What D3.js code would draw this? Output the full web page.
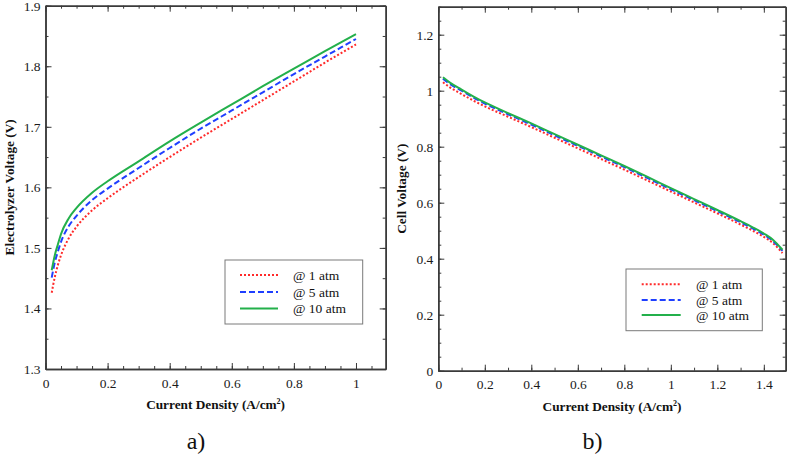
<!DOCTYPE html>
<html><head><meta charset="utf-8">
<script src="https://cdn.jsdelivr.net/npm/d3@7"></script>
<style>
html,body{margin:0;padding:0;background:#fff;}
svg{display:block;}
svg text{font-family:"Liberation Serif","Times New Roman",Times,"DejaVu Serif","Noto Serif",serif !important;}
</style></head>
<body>
<svg id="chart" width="789" height="455"></svg>
<script>
// ---- Data: panel a) electrolyzer ----
const aX = [0.02,0.03,0.04,0.05,0.075,0.1,0.15,0.2,0.3,0.4,0.5,0.6,0.7,0.8,0.9,1.0];
const a1atm  = [1.426,1.452,1.472,1.488,1.516,1.535,1.562,1.582,1.617,1.650,1.682,1.713,1.744,1.775,1.806,1.836];
const a5atm  = [1.451,1.476,1.494,1.510,1.536,1.553,1.579,1.598,1.632,1.665,1.697,1.727,1.757,1.787,1.816,1.845];
const a10atm = [1.463,1.488,1.506,1.523,1.549,1.566,1.591,1.610,1.643,1.676,1.707,1.737,1.767,1.796,1.825,1.853];
// ---- Data: panel b) fuel cell ----
const bX = [0.02,0.05,0.1,0.15,0.2,0.3,0.4,0.5,0.6,0.7,0.8,0.9,1.0,1.1,1.2,1.3,1.35,1.4,1.44,1.48];
const b1atm  = [1.030,1.012,0.988,0.965,0.944,0.907,0.870,0.832,0.794,0.756,0.718,0.679,0.640,0.601,0.562,0.522,0.501,0.478,0.455,0.420];
const b5atm  = [1.043,1.024,1.000,0.976,0.954,0.916,0.879,0.841,0.803,0.765,0.727,0.688,0.648,0.609,0.570,0.530,0.509,0.486,0.463,0.428];
const b10atm = [1.048,1.029,1.004,0.980,0.958,0.920,0.883,0.845,0.807,0.769,0.731,0.692,0.652,0.613,0.574,0.534,0.513,0.490,0.467,0.432];
// ---- Labels ----
const seriesNames = ["@ 1 atm","@ 5 atm","@ 10 atm"];
const aXTicks = [0,0.2,0.4,0.6,0.8,1];
const aYTicks = [1.3,1.4,1.5,1.6,1.7,1.8,1.9];
const bXTicks = [0,0.2,0.4,0.6,0.8,1,1.2,1.4];
const bYTicks = [0,0.2,0.4,0.6,0.8,1,1.2];

const styles = [
  {color:"#ff2a2a", dash:"2,2"},
  {color:"#1f3fff", dash:"6,3"},
  {color:"#23b04b", dash:null}
];

const FONT = '"Liberation Serif","Times New Roman",Times,"DejaVu Serif",serif';
const svg = d3.select("#chart");
const axisColor = "#3a3a3a";

function panel(opt){
  const g = svg.append("g");
  const x = d3.scaleLinear().domain(opt.xDomain).range([opt.x0, opt.x1]);
  const y = d3.scaleLinear().domain(opt.yDomain).range([opt.y1, opt.y0]);
  const minorX = d3.range(opt.xDomain[0], opt.xDomain[1]+1e-9, opt.xMinor);
  const minorY = d3.range(opt.yDomain[0], opt.yDomain[1]+1e-9, opt.yMinor);
  const fmt = d => String(+d.toFixed(2));

  // minor ticks
  g.append("g").attr("transform",`translate(0,${opt.y1})`).call(d3.axisBottom(x).tickValues(minorX).tickSize(-3).tickSizeOuter(0).tickFormat(""));
  g.append("g").attr("transform",`translate(0,${opt.y0})`).call(d3.axisTop(x).tickValues(minorX).tickSize(-3).tickSizeOuter(0).tickFormat(""));
  g.append("g").attr("transform",`translate(${opt.x0},0)`).call(d3.axisLeft(y).tickValues(minorY).tickSize(-3).tickSizeOuter(0).tickFormat(""));
  g.append("g").attr("transform",`translate(${opt.x1},0)`).call(d3.axisRight(y).tickValues(minorY).tickSize(-3).tickSizeOuter(0).tickFormat(""));
  // major ticks
  g.append("g").attr("class","lab").attr("transform",`translate(0,${opt.y1})`).call(d3.axisBottom(x).tickValues(opt.xTicks).tickSize(-6).tickSizeOuter(0).tickPadding(9).tickFormat(fmt));
  g.append("g").attr("transform",`translate(0,${opt.y0})`).call(d3.axisTop(x).tickValues(opt.xTicks).tickSize(-6).tickSizeOuter(0).tickFormat(""));
  g.append("g").attr("class","lab").attr("transform",`translate(${opt.x0},0)`).call(d3.axisLeft(y).tickValues(opt.yTicks).tickSize(-6).tickSizeOuter(0).tickPadding(5).tickFormat(fmt));
  g.append("g").attr("transform",`translate(${opt.x1},0)`).call(d3.axisRight(y).tickValues(opt.yTicks).tickSize(-6).tickSizeOuter(0).tickFormat(""));

  g.selectAll("g").attr("font-family",FONT);
  g.selectAll(".domain").attr("stroke",axisColor).attr("stroke-width",1.5);
  g.selectAll(".tick line").attr("stroke",axisColor).attr("stroke-width",1);
  g.selectAll(".lab text").style("font-family",FONT).attr("font-size",13.5).attr("fill","#1a1a1a");

  // lines
  const line = d3.line().x(d=>x(d[0])).y(d=>y(d[1])).curve(d3.curveMonotoneX);
  opt.series.forEach((s,i)=>{
    g.append("path").datum(opt.xs.map((xv,j)=>[xv,s[j]]))
      .attr("d",line).attr("fill","none")
      .attr("stroke",styles[i].color).attr("stroke-width",2)
      .attr("stroke-dasharray",styles[i].dash);
  });

  // axis titles
  const xt = g.append("text").attr("x",(opt.x0+opt.x1)/2).attr("y",opt.y1+40)
    .style("font-family",FONT)
    .attr("text-anchor","middle").attr("font-weight","bold").attr("font-size",13.3).attr("fill","#111");
  xt.append("tspan").text("Current Density (A/cm");
  xt.append("tspan").attr("font-size",8).attr("dy",-5).text("2");
  xt.append("tspan").attr("dy",5).text(")");

  g.append("text").attr("transform",`translate(${opt.yTitleX},${(opt.y0+opt.y1)/2}) rotate(-90)`)
    .style("font-family",FONT)
    .attr("text-anchor","middle").attr("font-weight","bold").attr("font-size",13.3).attr("fill","#111")
    .text(opt.yTitle);

  // panel letter
  g.append("text").attr("x",opt.letterX).attr("y",449).attr("text-anchor","middle")
    .style("font-family",FONT)
    .attr("font-size",24).attr("fill","#111").text(opt.letter);

  // legend
  const L = opt.legend;
  g.append("rect").attr("x",L.x).attr("y",L.y).attr("width",L.w).attr("height",L.h)
    .attr("fill","#fff").attr("stroke","#7a7a7a").attr("stroke-width",1);
  seriesNames.forEach((n,i)=>{
    const yy = L.rows[i];
    g.append("line").attr("x1",L.lx1).attr("x2",L.lx2).attr("y1",yy).attr("y2",yy)
      .attr("stroke",styles[i].color).attr("stroke-width",2).attr("stroke-dasharray",styles[i].dash);
    g.append("text").attr("x",L.tx).attr("y",yy+4.5).style("font-family",FONT)
      .attr("font-size",13.5).attr("fill","#111").text(n);
  });
}

panel({
  x0:45.5, x1:385.7, y0:5.7, y1:369,
  xDomain:[0,1.0957], yDomain:[1.3,1.9], xMinor:0.05, yMinor:0.05,
  xTicks:aXTicks, yTicks:aYTicks,
  xs:aX, series:[a1atm,a5atm,a10atm],
  yTitle:"Electrolyzer Voltage (V)", yTitleX:14,
  letter:"a)", letterX:196,
  legend:{x:225,y:260,w:137.7,h:64,lx1:240,lx2:278,tx:293,rows:[275,292,308.5]}
});
panel({
  x0:438.3, x1:785.7, y0:6.7, y1:370.7,
  xDomain:[0,1.494], yDomain:[0,1.3], xMinor:0.1, yMinor:0.05,
  xTicks:bXTicks, yTicks:bYTicks,
  xs:bX, series:[b1atm,b5atm,b10atm],
  yTitle:"Cell Voltage (V)", yTitleX:406,
  letter:"b)", letterX:592.5,
  legend:{x:626,y:269,w:136.3,h:61.7,lx1:641.7,lx2:680.7,tx:696,rows:[284.3,300,315]}
});
</script>
</body></html>
